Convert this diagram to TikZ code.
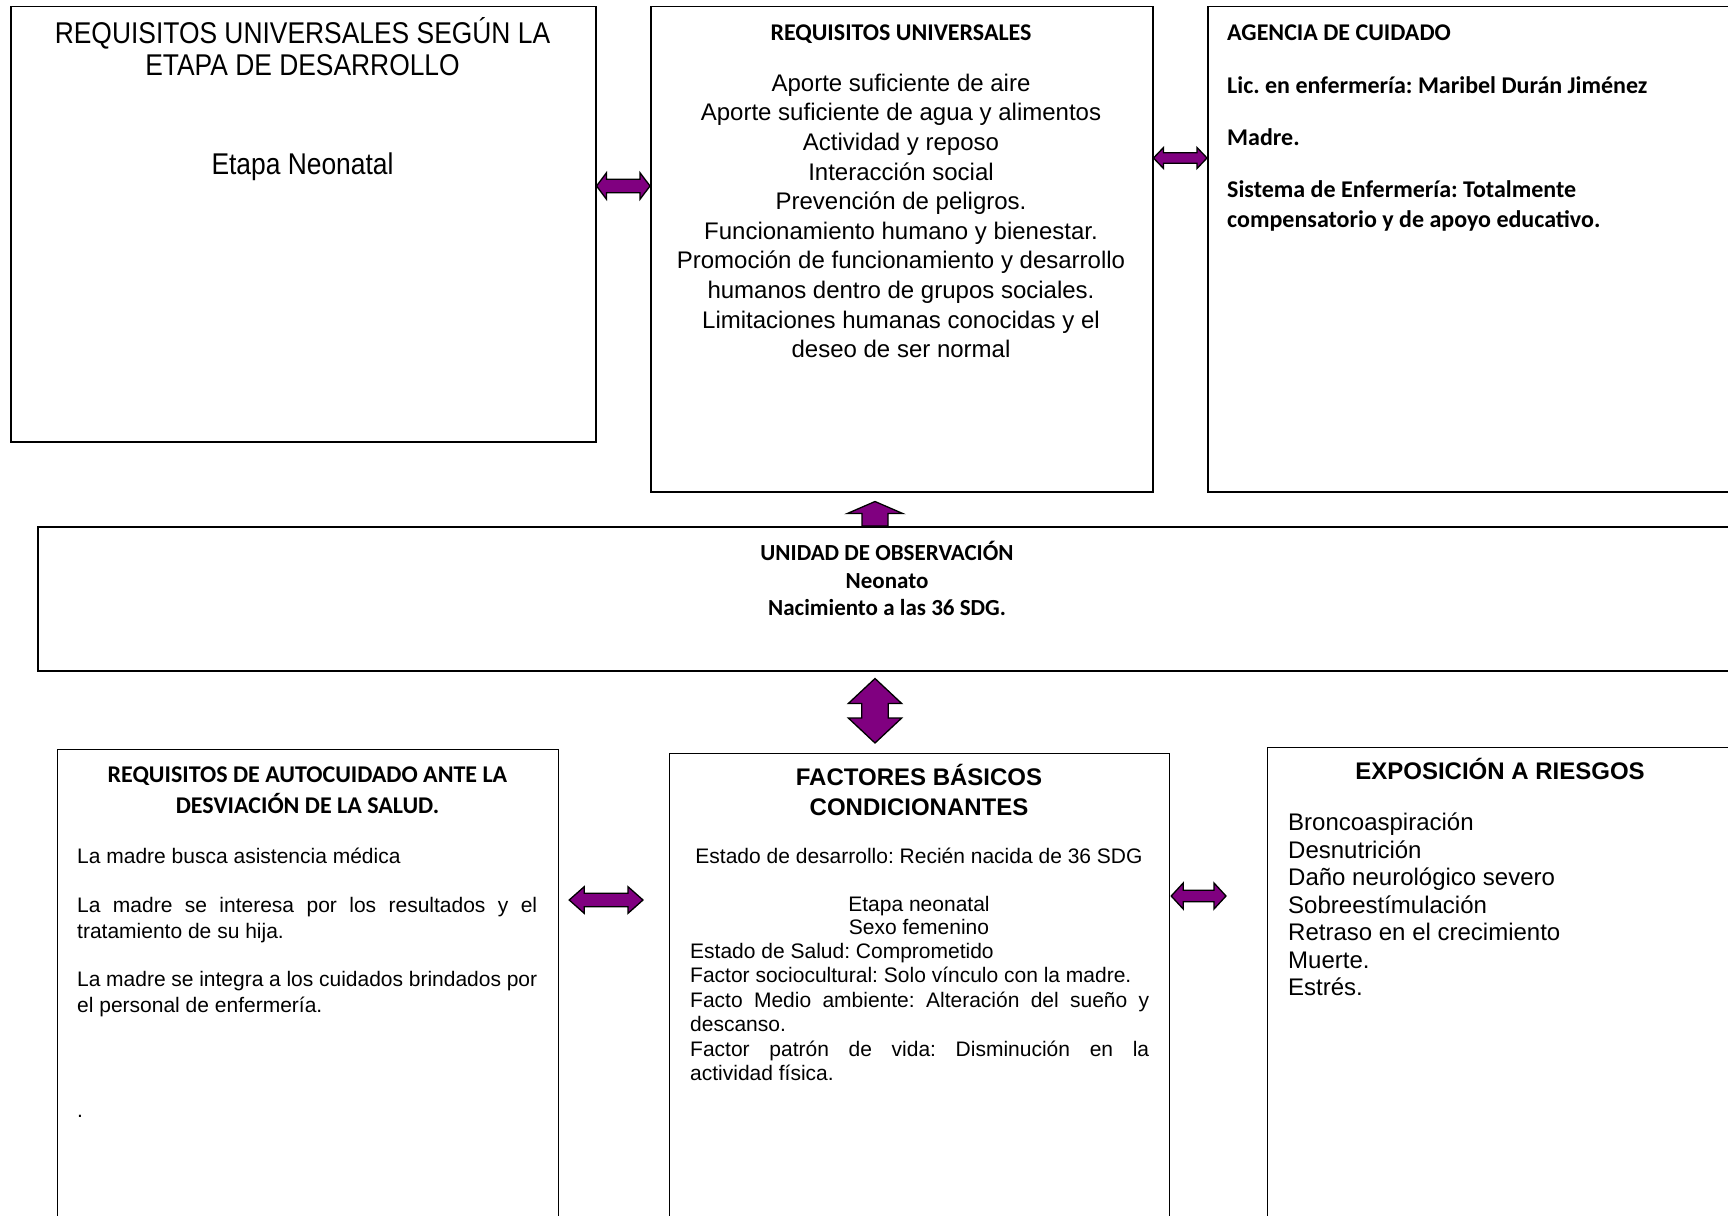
\documentclass[tikz,border=0pt]{standalone}
\usepackage{fontspec}
\setmainfont{Liberation Sans}
\newfontfamily\calib{Carlito}
\newfontfamily\narrowf[FakeStretch=0.88]{Liberation Sans}
\usetikzlibrary{calc}
\definecolor{arrowpurple}{HTML}{800080}
\frenchspacing

\tikzset{
  box/.style={draw=black, line width=1.5pt, fill=white, anchor=north west, inner sep=0pt},
  blockarrow/.style={fill=arrowpurple, draw=black, line width=1.3pt},
  txt/.style={inner sep=0pt, font=\fontsize{24}{29.6}\selectfont},
  smalltxt/.style={inner sep=0pt, font=\fontsize{21}{24.4}\selectfont},
  boldtxt/.style={inner sep=0pt, font=\calib\bfseries\fontsize{24}{30}\selectfont},
  headtxt/.style={inner sep=0pt, font=\bfseries\fontsize{24}{30}\selectfont},
  narrowtxt/.style={inner sep=0pt, font=\narrowf\fontsize{30}{32}\selectfont},
}

% block arrows: #1,#2 end points, #3 half shaft, #4 half head, #5 head length
\newcommand{\hboth}[5]{%
  \filldraw[blockarrow] let \p1=(#1), \p2=(#2) in
    (\x1,\y1) -- (\x1+#5,\y1+#4) -- (\x1+#5,\y1+#3) -- (\x2-#5,\y1+#3)
    -- (\x2-#5,\y1+#4) -- (\x2,\y1) -- (\x2-#5,\y1-#4) -- (\x2-#5,\y1-#3)
    -- (\x1+#5,\y1-#3) -- (\x1+#5,\y1-#4) -- cycle;}
\newcommand{\vboth}[5]{%
  \filldraw[blockarrow] let \p1=(#1), \p2=(#2) in
    (\x1,\y1) -- (\x1+#4,\y1-#5) -- (\x1+#3,\y1-#5) -- (\x1+#3,\y2+#5)
    -- (\x1+#4,\y2+#5) -- (\x1,\y2) -- (\x1-#4,\y2+#5) -- (\x1-#3,\y2+#5)
    -- (\x1-#3,\y1-#5) -- (\x1-#4,\y1-#5) -- cycle;}
\newcommand{\vup}[5]{%
  \filldraw[blockarrow] let \p1=(#1), \p2=(#2) in
    (\x1,\y1) -- (\x1+#4,\y1-#5) -- (\x1+#3,\y1-#5) -- (\x1+#3,\y2)
    -- (\x1-#3,\y2) -- (\x1-#3,\y1-#5) -- (\x1-#4,\y1-#5) -- cycle;}

\begin{document}
\begin{tikzpicture}[x=1pt, y=-1pt]
  \useasboundingbox (0,0) rectangle (1728,1215);
  \clip (0,0) rectangle (1728,1215);

  % boxes
  \node[box, minimum width=585pt, minimum height=435pt] (etapa) at (10,6) {};
  \node[box, minimum width=502pt, minimum height=485pt] (univ) at (650,6) {};
  \node[box, minimum width=560pt, minimum height=485pt] (agencia) at (1207,6) {};
  \node[box, minimum width=1740pt, minimum height=144pt] (obs) at (37,526) {};
  \node[box, line width=1.2pt, minimum width=501pt, minimum height=520pt] (autoc) at (57,749) {};
  \node[box, line width=1.2pt, minimum width=500pt, minimum height=520pt] (factores) at (669,753) {};
  \node[box, line width=1.2pt, minimum width=500pt, minimum height=520pt] (riesgos) at (1267,747) {};

  % top row (base = last line)
  \node[narrowtxt, anchor=base, align=center] (etapaT) at (302.5,75.7)
    {REQUISITOS UNIVERSALES SEGÚN LA\\ETAPA DE DESARROLLO};
  \node[narrowtxt, anchor=base] (etapaN) at (302.5,174.7) {Etapa Neonatal};

  \node[boldtxt, anchor=base] (univT) at (901,40.7) {REQUISITOS UNIVERSALES};
  \node[txt, anchor=base, align=center] (univL) at (901,357.6)
    {Aporte suficiente de aire\\
     Aporte suficiente de agua y alimentos\\
     Actividad y reposo\\
     Interacción social\\
     Prevención de peligros.\\
     Funcionamiento humano y bienestar.\\
     Promoción de funcionamiento y desarrollo\\
     humanos dentro de grupos sociales.\\
     Limitaciones humanas conocidas y el\\
     deseo de ser normal};

  \node[boldtxt, anchor=base west] (agT) at (1227,40.7) {AGENCIA DE CUIDADO};
  \node[boldtxt, anchor=base west] (agLic) at (1227,93.7) {Lic. en enfermería: Maribel Durán Jiménez};
  \node[boldtxt, anchor=base west] (agMadre) at (1227,145.7) {Madre.};
  \node[boldtxt, anchor=base west, align=left] (agSis) at (1227,227.7)
    {Sistema de Enfermería: Totalmente\\compensatorio y de apoyo educativo.};

  % observation unit
  \node[boldtxt, anchor=base, align=center, font=\calib\bfseries\fontsize{23}{27.5}\selectfont] (obsT) at (887,615.5)
    {UNIDAD DE OBSERVACIÓN\\Neonato\\Nacimiento a las 36 SDG.};

  % bottom row (text width nodes: base = first line)
  \node[boldtxt, anchor=base, align=center, font=\calib\bfseries\fontsize{24}{31}\selectfont] (autT) at (307.5,813.7)
    {REQUISITOS DE AUTOCUIDADO ANTE LA\\DESVIACIÓN DE LA SALUD.};
  \node[smalltxt, anchor=base west] (aut1) at (77,863.5) {La madre busca asistencia médica};
  \node[smalltxt, anchor=base west, text width=460pt, align=justify, font=\fontsize{21}{26}\selectfont] (aut2) at (77,912.5)
    {La madre se interesa por los resultados y el\linebreak tratamiento de su hija.};
  \node[smalltxt, anchor=base west, text width=460pt, align=justify, font=\fontsize{21}{26}\selectfont] (aut3) at (77,986.5)
    {La madre se integra a los cuidados brindados por\linebreak el personal de enfermería.};
  \node[smalltxt, anchor=base west] (aut4) at (77,1117) {.};

  \node[headtxt, anchor=base, align=center] (facT) at (919,815.6)
    {FACTORES BÁSICOS\\CONDICIONANTES};
  \node[smalltxt, anchor=base] (fac1) at (919,863.5) {Estado de desarrollo: Recién nacida de 36 SDG};
  \node[smalltxt, anchor=base, align=center, font=\fontsize{21}{23}\selectfont] (fac2) at (919,934.5)
    {Etapa neonatal\\Sexo femenino};
  \node[smalltxt, anchor=base west, text width=459pt, align=justify] (fac3) at (690,958.5)
    {Estado de Salud: Comprometido\\
     Factor sociocultural: Solo vínculo con la madre.\\
     Facto Medio ambiente: Alteración del sueño y\linebreak descanso.\\
     Factor patrón de vida: Disminución en la\linebreak actividad física.};

  \node[headtxt, anchor=base] (riesT) at (1500,779.6) {EXPOSICIÓN A RIESGOS};
  \node[txt, anchor=base west, align=left, font=\fontsize{24}{27.5}\selectfont] (riesL) at (1288,995.6)
    {Broncoaspiración\\
     Desnutrición\\
     Daño neurológico severo\\
     Sobreestímulación\\
     Retraso en el crecimiento\\
     Muerte.\\
     Estrés.};

  % arrows
  \coordinate (a1l) at (etapa.east |- 0,186);
  \coordinate (a1r) at (univ.west |- 0,186);
  \coordinate (a2l) at (univ.east |- 0,158);
  \coordinate (a2r) at (agencia.west |- 0,158);
  \coordinate (upTip) at ($(univ.south -| 875,0)+(0,9)$);
  \coordinate (upBase) at (obs.north -| 875,0);
  \coordinate (vTop) at ($(obs.south -| 875,0)+(0,7)$);
  \coordinate (vBot) at ($(factores.north -| 875,0)+(0,-10)$);
  \coordinate (a3l) at ($(autoc.east |- 0,900)+(10,0)$);
  \coordinate (a3r) at ($(factores.west |- 0,900)+(-26,0)$);
  \coordinate (a4l) at ($(factores.east |- 0,896)+(1,0)$);
  \coordinate (a4r) at ($(riesgos.west |- 0,896)+(-41,0)$);

  \hboth{a1l}{a1r}{6.7pt}{13.3pt}{10pt}
  \hboth{a2l}{a2r}{5.3pt}{10.5pt}{10pt}
  \vup{upTip}{upBase}{13pt}{27.7pt}{12pt}
  \vboth{vTop}{vBot}{13.3pt}{26.7pt}{25pt}
  \hboth{a3l}{a3r}{6.7pt}{13.3pt}{15pt}
  \hboth{a4l}{a4r}{5.8pt}{13pt}{12pt}
\end{tikzpicture}
\end{document}
